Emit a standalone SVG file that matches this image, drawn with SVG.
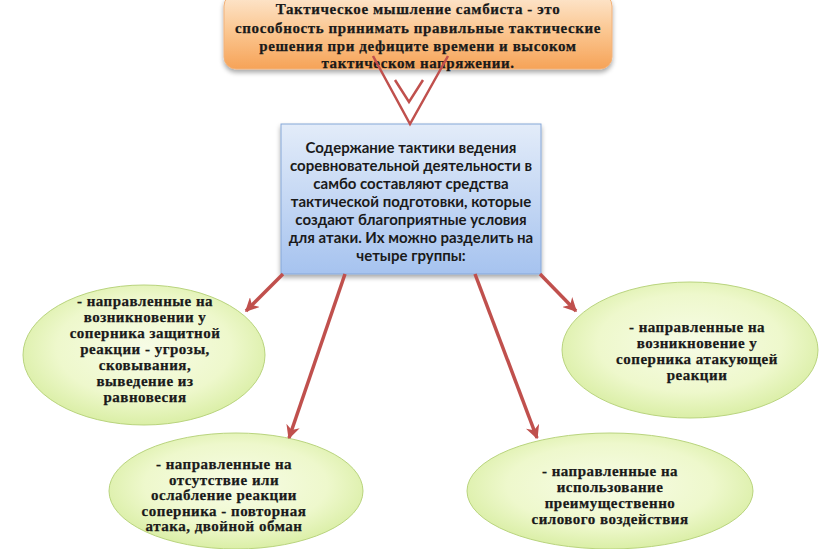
<svg xmlns="http://www.w3.org/2000/svg" width="821" height="549" viewBox="0 0 821 549">
<defs>
<linearGradient id="gOrange" x1="0" y1="0" x2="0" y2="1">
<stop offset="0" stop-color="#fde7cf"/>
<stop offset="0.5" stop-color="#fbc690"/>
<stop offset="1" stop-color="#f6a358"/>
</linearGradient>
<linearGradient id="gBlue" x1="0" y1="0" x2="0" y2="1">
<stop offset="0" stop-color="#e3ecf9"/>
<stop offset="1" stop-color="#a6c3ef"/>
</linearGradient>
<radialGradient id="gGreen" cx="0.5" cy="0.45" r="0.6">
<stop offset="0" stop-color="#f7fce6"/>
<stop offset="0.6" stop-color="#eef8cc"/>
<stop offset="1" stop-color="#d5ec9c"/>
</radialGradient>
<filter id="sh" x="-10%" y="-10%" width="120%" height="130%">
<feGaussianBlur in="SourceAlpha" stdDeviation="2.5"/>
<feOffset dx="0" dy="3"/>
<feComponentTransfer><feFuncA type="linear" slope="0.35"/></feComponentTransfer>
<feMerge><feMergeNode/><feMergeNode in="SourceGraphic"/></feMerge>
</filter>
<marker id="ah" viewBox="0 0 10 10" refX="9" refY="5" markerWidth="4" markerHeight="4" orient="auto" markerUnits="strokeWidth">
<path d="M0,0 L10,5 L0,10 L3,5 Z" fill="#c0504d"/>
</marker>
<style>
.serif{font-family:"Liberation Serif","Times New Roman",serif;font-weight:bold;font-size:15px;fill:#1a1a1a;stroke:#1a1a1a;stroke-width:0.25px;text-anchor:middle;letter-spacing:0.5px}
.top{letter-spacing:0.6px}
.sans{font-family:Lato,"Open Sans",sans-serif;font-weight:bold;font-size:15px;fill:#1a1a1a;text-anchor:middle}
.ell{fill:url(#gGreen);stroke:#b9d47e;stroke-width:1}
.conn{stroke:#c0504d;stroke-width:3.5;fill:none;marker-end:url(#ah)}
.vee{stroke:#c0504d;stroke-width:2.5;fill:none;stroke-linejoin:miter}
</style>
</defs>
<rect width="821" height="549" fill="#ffffff"/>

<g id="top">
<rect x="224" y="-6" width="388" height="75" rx="12" fill="url(#gOrange)" stroke="#f2b27a" stroke-width="1" filter="url(#sh)"/>
<text class="serif top"><tspan x="418" y="14">Тактическое мышление самбиста - это</tspan><tspan x="418" y="33">способность принимать правильные тактические</tspan><tspan x="418" y="51">решения при дефиците времени и высоком</tspan><tspan x="418" y="68">тактическом напряжении.</tspan></text>
</g>

<g id="center">
<rect x="281" y="124" width="260" height="150" fill="url(#gBlue)" stroke="#86a7d8" stroke-width="1" filter="url(#sh)"/>
<text class="sans"><tspan x="411" y="153">Содержание тактики ведения</tspan><tspan x="411" y="171">соревновательной деятельности в</tspan><tspan x="411" y="189">самбо составляют средства</tspan><tspan x="411" y="207">тактической подготовки, которые</tspan><tspan x="411" y="225">создают благоприятные условия</tspan><tspan x="411" y="243">для атаки. Их можно разделить на</tspan><tspan x="411" y="261">четыре группы:</tspan></text>
</g>

<g id="left">
<ellipse class="ell" cx="144" cy="355" rx="121" ry="70"/>
<text class="serif"><tspan x="145" y="306">- направленные на</tspan><tspan x="145" y="322">возникновении у</tspan><tspan x="145" y="338">соперника защитной</tspan><tspan x="145" y="354">реакции - угрозы,</tspan><tspan x="145" y="370">сковывания,</tspan><tspan x="145" y="386">выведение из</tspan><tspan x="145" y="402">равновесия</tspan></text>
</g>

<g id="right">
<ellipse class="ell" cx="690" cy="350" rx="128" ry="68"/>
<text class="serif"><tspan x="697" y="332">- направленные на</tspan><tspan x="697" y="348">возникновение у</tspan><tspan x="697" y="364">соперника атакующей</tspan><tspan x="697" y="380">реакции</tspan></text>
</g>

<g id="bottomleft">
<ellipse class="ell" cx="236" cy="491" rx="127" ry="58"/>
<text class="serif"><tspan x="224" y="469">- направленные на</tspan><tspan x="224" y="484.5">отсутствие или</tspan><tspan x="224" y="500">ослабление реакции</tspan><tspan x="224" y="515.5">соперника - повторная</tspan><tspan x="224" y="531">атака, двойной обман</tspan></text>
</g>

<g id="bottomright">
<ellipse class="ell" cx="610" cy="491" rx="143" ry="58"/>
<text class="serif"><tspan x="610" y="476">- направленные на</tspan><tspan x="610" y="492">использование</tspan><tspan x="610" y="508">преимущественно</tspan><tspan x="610" y="524">силового воздействия</tspan></text>
</g>

<g id="connectors">
<path class="vee" d="M373,56 L410,124 L448,56"/>
<path class="vee" d="M395,80 L409,102 L423,80"/>
<line class="conn" x1="283" y1="274" x2="246" y2="311"/>
<line class="conn" x1="345" y1="274" x2="289" y2="438"/>
<line class="conn" x1="475" y1="274" x2="537" y2="438"/>
<line class="conn" x1="540" y1="274" x2="576" y2="311"/>
</g>
</svg>
